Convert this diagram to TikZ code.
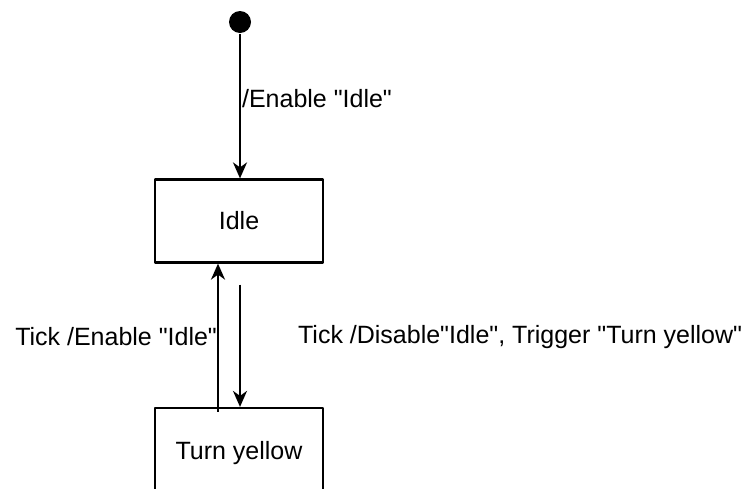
\documentclass[tikz,border=0pt]{standalone}
\usepackage{fontspec}
\setmainfont{Liberation Sans}[Ligatures=TeXOff]
\usetikzlibrary{arrows.meta}
\begin{document}
\begin{tikzpicture}[x=1pt,y=-1pt,line join = round,>={Stealth[length=16pt,width=14pt,inset=5pt]},line width=2.2pt,font=\fontsize{25}{29}\selectfont]
	\tikzset{state/.style={draw,minimum width=168pt,minimum height=83pt,inner sep=0pt}}
	\useasboundingbox (0,0) rectangle (751,488);
	\node[circle,fill,inner sep=0pt,minimum size=22pt] (start) at (240,22) {};
	\node[state] (idle) at (239,221) {Idle};
	\node[state,minimum height=90pt] (turn) at (239,453) {Turn yellow};
	\draw[->] (start) -- (start |- idle.north) node[pos=0.45,anchor=west,inner sep=1pt] {/Enable "Idle"};
	\draw[->] ([xshift=-21pt,yshift=-5pt]turn.north) -- ([xshift=-21pt]idle.south) node[pos=0.51,anchor=east,inner sep=0pt] {Tick /Enable "Idle"};
	\draw[->] ([xshift=1pt,yshift=-21pt]idle.south) -- ([xshift=1pt]turn.north) node[pos=0.43,anchor=west,xshift=57pt,inner sep=0pt] {Tick /Disable"Idle", Trigger "Turn yellow"};
\end{tikzpicture}
\end{document}
